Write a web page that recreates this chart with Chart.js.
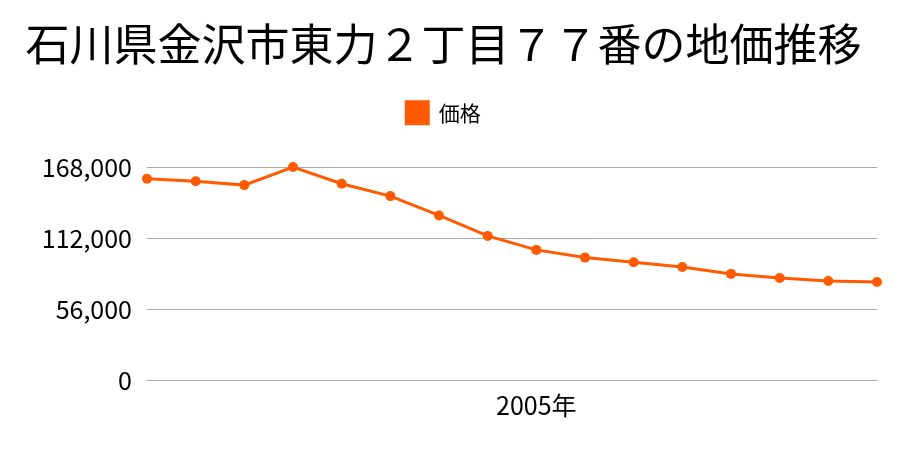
<!DOCTYPE html>
<html>
<head>
<meta charset="utf-8">
<script src="https://cdn.jsdelivr.net/npm/chart.js@4"></script>
<style>
  html, body { margin: 0; padding: 0; background: #fff; }
  #wrap { width: 900px; height: 450px; }
</style>
</head>
<body>
<div id="wrap"><canvas id="landPriceChart"></canvas></div>
<script>
const years = ['', '', '', '', '', '', '', '', '2005年', '', '', '', '', '', '', ''];
const prices = [159400, 157300, 154300, 168600, 155400, 145600, 130300, 114100, 103000, 96900, 93200, 89500, 84000, 80800, 78400, 77600];
const yTicks = [0, 56000, 112000, 168000];

const fontFamily = '"Noto Sans CJK JP", "Noto Sans", sans-serif';

var formatPrice = function (value) {
    return value.toString().replace(/\B(?=(\d{3})+(?!\d))/g, ",");
};

// leave some extra room under the legend
const legendSpacer = {
    id: 'legendSpacer',
    afterInit: function (chart) {
        const fit = chart.legend.fit;
        chart.legend.fit = function () {
            fit.call(this);
            this.height += 34;
        };
    }
};

let ctx = document.getElementById('landPriceChart');
let landPriceChart = new Chart(ctx, {
    type: 'line',
    data: {
        labels: years,
        datasets: [{
            label: '価格',
            data: prices,
            borderColor: '#FF5A00',
            backgroundColor: '#FF5A00',
            borderWidth: 3,
            pointRadius: 5,
            pointBackgroundColor: '#FF5A00',
            pointBorderWidth: 0,
            tension: 0,
            clip: false
        }]
    },
    options: {
        responsive: true,
        maintainAspectRatio: false,
        animation: false,
        layout: {
            padding: { left: 10, right: 23, top: 8, bottom: 28 }
        },
        plugins: {
            title: {
                display: true,
                text: '石川県金沢市東力２丁目７７番の地価推移',
                color: '#000',
                font: { family: fontFamily, size: 44, weight: 'normal' },
                padding: { top: 10, bottom: 0 }
            },
            legend: {
                display: true,
                labels: {
                    color: '#000',
                    font: { family: fontFamily, size: 21 },
                    boxWidth: 22,
                    boxHeight: 22,
                    padding: 31
                }
            },
            tooltip: { enabled: false }
        },
        scales: {
            x: {
                offset: false,
                grid: { display: false },
                border: { display: false },
                ticks: {
                    autoSkip: false,
                    maxRotation: 0,
                    color: '#000',
                    font: { family: fontFamily, size: 25 },
                    padding: 2
                }
            },
            y: {
                min: 0,
                max: 168000,
                afterBuildTicks: function (axis) {
                    axis.ticks = yTicks.map(function (v) { return { value: v }; });
                },
                afterFit: function (axis) {
                    axis.width = 137;
                },
                grid: { color: '#aaaaaa', lineWidth: 1, drawTicks: false },
                border: { display: false },
                ticks: {
                    color: '#000',
                    font: { family: fontFamily, size: 25 },
                    padding: 15,
                    callback: function (value) { return formatPrice(value); }
                }
            }
        }
    },
    plugins: [legendSpacer]
});
</script>
</body>
</html>
